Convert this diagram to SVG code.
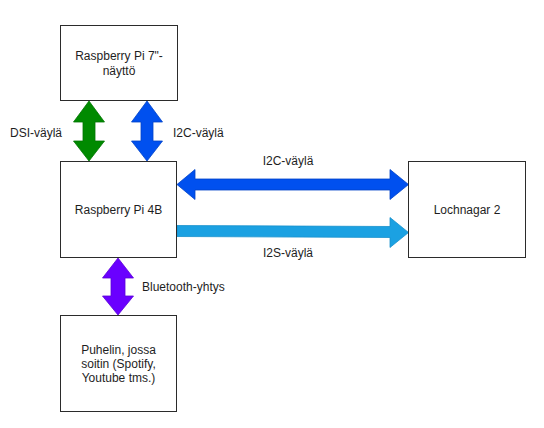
<svg xmlns="http://www.w3.org/2000/svg" width="544" height="428" viewBox="0 0 544 428">
<style>
.box{fill:#ffffff;stroke:#2b2b2b;stroke-width:1}
.t{font-family:"Liberation Sans",Arial,sans-serif;font-size:12px;fill:#1e1e1e}
.c{text-anchor:middle}
.green{fill:#008a00;stroke:#007500;stroke-width:0.8}
.blue{fill:#0050ef;stroke:#0043c8;stroke-width:0.8}
.purple{fill:#6a00ff;stroke:#5a00d8;stroke-width:0.8}
.lblue{fill:#1ba1e2;stroke:#1890cc;stroke-width:0.8}
</style>
<rect width="544" height="428" fill="#ffffff"/>
<g id="connectors">
  <g id="dsi">
    <path class="green" d="M89,101 L104.5,122 L95,122 L95,141 L104.5,141 L89,161 L73.5,141 L83,141 L83,122 L73.5,122 Z"/>
    <text class="t" x="10" y="137">DSI-väylä</text>
  </g>
  <g id="i2c-vertical">
    <path class="blue" d="M147,101 L162.5,122 L153,122 L153,141 L162.5,141 L147,161 L131.5,141 L141,141 L141,122 L131.5,122 Z"/>
    <text class="t" x="173" y="137">I2C-väylä</text>
  </g>
  <g id="bluetooth">
    <path class="purple" d="M118,258 L133.5,278 L125,278 L125,296 L133.5,296 L118,315 L102.5,296 L111,296 L111,278 L102.5,278 Z"/>
    <text class="t" x="142" y="291">Bluetooth-yhtys</text>
  </g>
  <g id="i2c-horizontal">
    <path class="blue" d="M177,184.5 L195,169.5 L195,179 L390,179 L390,169.5 L408.5,184.5 L390,199.5 L390,190 L195,190 L195,199.5 Z"/>
    <text class="t c" x="288" y="165">I2C-väylä</text>
  </g>
  <g id="i2s">
    <path class="lblue" d="M177,225.5 L390,226.5 L390,217.5 L408.5,232.5 L390,247.5 L390,237.5 L177,236.5 Z"/>
    <text class="t c" x="288" y="257">I2S-väylä</text>
  </g>
</g>
<g id="node-display">
  <rect class="box" x="60.5" y="25.5" width="117" height="75"/>
  <text class="t c" x="119" y="60">Raspberry Pi 7"-</text>
  <text class="t c" x="119" y="75">näyttö</text>
</g>
<g id="node-pi4b">
  <rect class="box" x="60.5" y="161.5" width="116" height="96"/>
  <text class="t c" x="118.5" y="214">Raspberry Pi 4B</text>
</g>
<g id="node-phone">
  <rect class="box" x="60.5" y="315.5" width="116" height="96"/>
  <text class="t c" x="118.5" y="354">Puhelin, jossa</text>
  <text class="t c" x="118.5" y="368">soitin (Spotify,</text>
  <text class="t c" x="118.5" y="382">Youtube tms.)</text>
</g>
<g id="node-lochnagar">
  <rect class="box" x="408.5" y="161.5" width="117" height="96"/>
  <text class="t c" x="467" y="214">Lochnagar 2</text>
</g>
</svg>
